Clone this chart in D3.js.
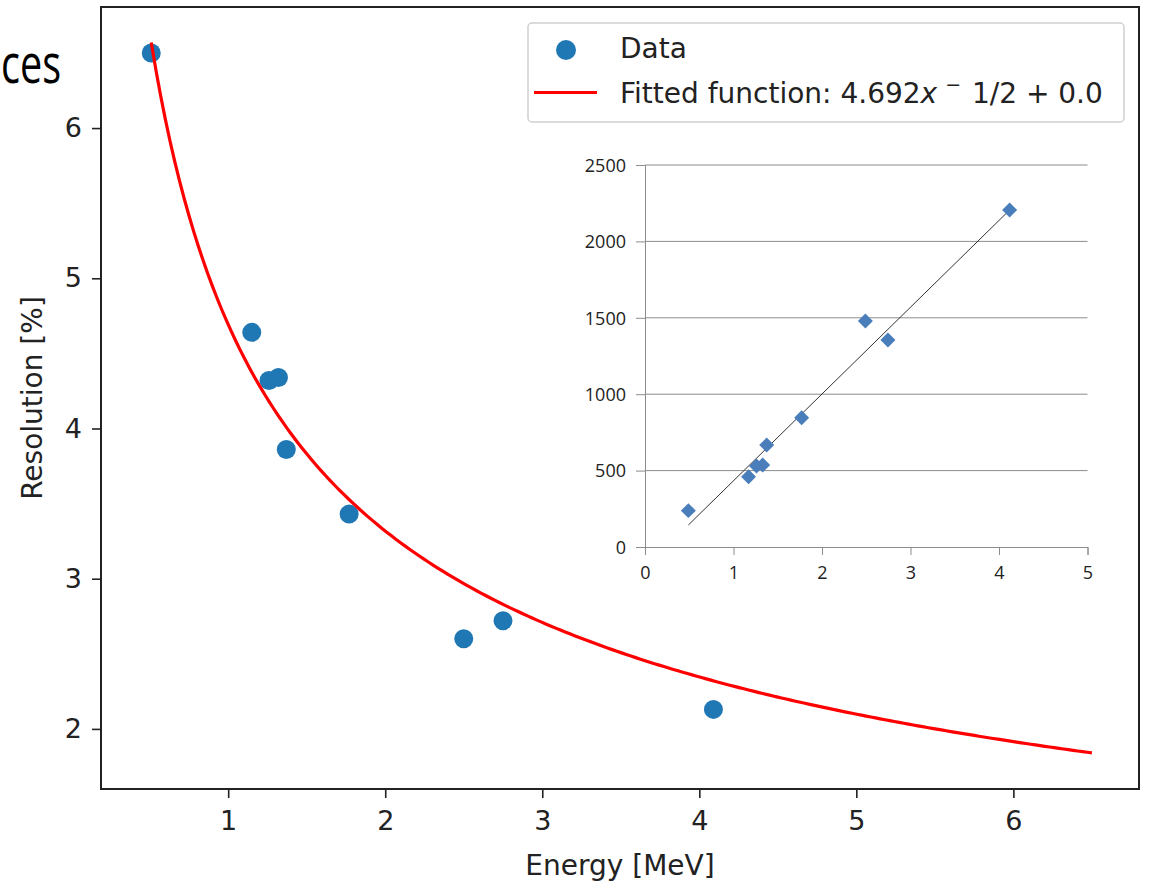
<!DOCTYPE html>
<html>
<head>
<meta charset="utf-8">
<script src="https://cdn.jsdelivr.net/npm/d3@7"></script>
<style>
  body { margin: 0; background: #fff; }
  svg { display: block; }
  text { font-family: "DejaVu Sans", sans-serif; fill: #222; }
  .inset text { font-family: "Open Sans", "Liberation Sans", sans-serif; fill: #222; }
</style>
</head>
<body>
<div id="viz"></div>
<script>
// main plot: energy resolution vs energy
var energy = [0.51, 1.15, 1.26, 1.32, 1.37, 1.77, 2.50, 2.75, 4.09];
var resolution = [6.50, 4.64, 4.32, 4.34, 3.86, 3.43, 2.60, 2.72, 2.13];
var xTicks = [1, 2, 3, 4, 5, 6];
var yTicks = [2, 3, 4, 5, 6];

// fitted function from the legend: a * x^(-1/2) + c
var fitA = 4.692, fitC = 0.0, fitPow = -0.5;
var fitRange = [0.51, 6.5];

// inset plot (pasted excel chart)
var insetEnergy = [0.49, 1.17, 1.26, 1.33, 1.375, 1.77, 2.49, 2.745, 4.12];
var insetCounts = [238, 460, 530, 537, 668, 846, 1479, 1355, 2205];
var insetTrendX = [0.49, 4.10];
var insetTrendY = [144, 2194];
var insetXTicks = [0, 1, 2, 3, 4, 5];
var insetYTicks = [0, 500, 1000, 1500, 2000, 2500];

var width = 1150, height = 883;

var svg = d3.select('#viz').append('svg')
    .attr('width', width)
    .attr('height', height);

// slide title fragment
svg.append('text')
    .attr('transform', 'translate(1,83) scale(0.72,1)')
    .attr('text-anchor', 'start')
    .style('font-family', '"Open Sans", sans-serif')
    .style('font-size', '55px')
    .style('fill', '#000')
    .text('ces');

var x = d3.scaleLinear().domain([0.19, 6.8]).range([101, 1139]);
var y = d3.scaleLinear().domain([1.6, 6.806]).range([789, 7]);

// axes
svg.append('g')
    .attr('transform', 'translate(0,789)')
    .call(d3.axisBottom(x).tickValues(xTicks).tickSize(9).tickPadding(13).tickFormat(d3.format('d')))
    .call(function(g) { g.select('.domain').remove(); })
    .call(function(g) {
        g.selectAll('line').attr('stroke', '#222').attr('stroke-width', 1.6);
        g.selectAll('text').style('font-size', '27px').style('fill', '#222')
            .style('font-family', '"DejaVu Sans", sans-serif');
    });

svg.append('g')
    .attr('transform', 'translate(101,0)')
    .call(d3.axisLeft(y).tickValues(yTicks).tickSize(9).tickPadding(10).tickFormat(d3.format('d')))
    .call(function(g) { g.select('.domain').remove(); })
    .call(function(g) {
        g.selectAll('line').attr('stroke', '#222').attr('stroke-width', 1.6);
        g.selectAll('text').style('font-size', '27px').style('fill', '#222')
            .style('font-family', '"DejaVu Sans", sans-serif');
    });

svg.append('text')
    .attr('x', 620).attr('y', 875)
    .attr('text-anchor', 'middle')
    .style('font-size', '28px')
    .text('Energy [MeV]');

svg.append('text')
    .attr('transform', 'translate(42,398) rotate(-90)')
    .attr('text-anchor', 'middle')
    .style('font-size', '28px')
    .text('Resolution [%]');

// data points
svg.selectAll('circle.data')
    .data(energy)
    .enter().append('circle')
        .attr('class', 'data')
        .attr('cx', function(d) { return x(d); })
        .attr('cy', function(d, i) { return y(resolution[i]); })
        .attr('r', 9.5)
        .attr('fill', '#1f77b4');

// fitted curve
var fitXs = d3.range(0, 201).map(function(i) {
    return fitRange[0] + (fitRange[1] - fitRange[0]) * i / 200;
});
var fitLine = d3.line()
    .x(function(d) { return x(d); })
    .y(function(d) { return y(fitA * Math.pow(d, fitPow) + fitC); });

svg.append('path')
    .datum(fitXs)
    .attr('d', fitLine)
    .attr('fill', 'none')
    .attr('stroke', '#ff0000')
    .attr('stroke-width', 3.2);

// frame
svg.append('rect')
    .attr('x', 101).attr('y', 7)
    .attr('width', 1038).attr('height', 782)
    .attr('fill', 'none')
    .attr('stroke', '#222')
    .attr('stroke-width', 2);

// legend
var legend = svg.append('g');
legend.append('rect')
    .attr('x', 528).attr('y', 23)
    .attr('width', 596).attr('height', 99)
    .attr('rx', 4)
    .attr('fill', '#fff').attr('fill-opacity', 0.8)
    .attr('stroke', '#d0d0d0').attr('stroke-width', 1.5);
legend.append('circle')
    .attr('cx', 566).attr('cy', 50).attr('r', 10)
    .attr('fill', '#1f77b4');
legend.append('line')
    .attr('x1', 534).attr('x2', 597)
    .attr('y1', 92.5).attr('y2', 92.5)
    .attr('stroke', '#ff0000').attr('stroke-width', 3.2);
legend.append('text')
    .attr('x', 620).attr('y', 58)
    .style('font-size', '28px')
    .text('Data');
var ft = legend.append('text')
    .attr('x', 620).attr('y', 103)
    .style('font-size', '28px');
ft.append('tspan').text('Fitted function: 4.692');
ft.append('tspan').style('font-style', 'italic').text('x');
ft.append('tspan').attr('dy', -12).attr('dx', 8).style('font-size', '19px').text('\u2212');
ft.append('tspan').attr('dy', 12).attr('dx', 2).text(' 1/2 + 0.0');

// inset chart
var inset = svg.append('g').attr('class', 'inset');
var ix = d3.scaleLinear().domain([0, 5]).range([645, 1087.5]);
var iy = d3.scaleLinear().domain([0, 2500]).range([547, 165]);

inset.selectAll('line.grid')
    .data(insetYTicks.filter(function(d) { return d > 0; }))
    .enter().append('line')
        .attr('class', 'grid')
        .attr('x1', ix(0)).attr('x2', ix(5))
        .attr('y1', function(d) { return iy(d); })
        .attr('y2', function(d) { return iy(d); })
        .attr('stroke', '#8c8c8c').attr('stroke-width', 1);

inset.append('g')
    .attr('transform', 'translate(' + ix(0) + ',0)')
    .call(d3.axisLeft(iy).tickValues(insetYTicks).tickSize(9).tickPadding(10).tickFormat(d3.format('d')))
    .call(function(g) {
        g.select('.domain').attr('stroke', '#8c8c8c');
        g.selectAll('line').attr('stroke', '#8c8c8c');
        g.selectAll('text').style('font-size', '18px').attr('dy', '0.35em');
    });

inset.append('g')
    .attr('transform', 'translate(0,' + iy(0) + ')')
    .call(d3.axisBottom(ix).tickValues(insetXTicks).tickSize(8).tickPadding(11).tickFormat(d3.format('d')))
    .call(function(g) {
        g.select('.domain').attr('stroke', '#8c8c8c');
        g.selectAll('line').attr('stroke', '#8c8c8c');
        g.selectAll('text').style('font-size', '18px');
    });

inset.append('line')
    .attr('x1', ix(insetTrendX[0])).attr('y1', iy(insetTrendY[0]))
    .attr('x2', ix(insetTrendX[1])).attr('y2', iy(insetTrendY[1]))
    .attr('stroke', '#333').attr('stroke-width', 1);

var diamond = d3.symbol().type(d3.symbolSquare).size(112);
inset.selectAll('path.pt')
    .data(insetEnergy)
    .enter().append('path')
        .attr('class', 'pt')
        .attr('d', diamond)
        .attr('transform', function(d, i) {
            return 'translate(' + ix(d) + ',' + iy(insetCounts[i]) + ') rotate(45)';
        })
        .attr('fill', '#4a7ebb');
</script>
</body>
</html>
